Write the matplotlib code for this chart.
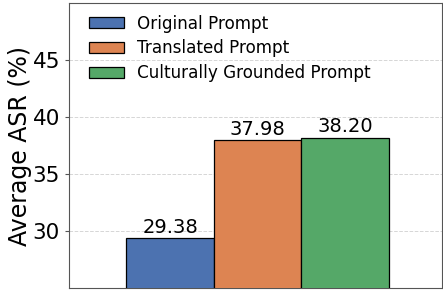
import numpy as np
import matplotlib.pyplot as plt

# average ASR per prompt type
labels = ["Original Prompt", "Translated Prompt", "Culturally Grounded Prompt"]
values = [29.38, 37.98, 38.20]
colors = ["#4C72B0", "#DD8452", "#55A868"]

fig = plt.figure(figsize=(4.43, 2.91), dpi=100)
ax = fig.add_axes([69 / 443, 3 / 291, 373 / 443, 285 / 291])

w = 0.25
x = np.array([-1, 0, 1]) * w
for xi, v, c, lab in zip(x, values, colors, labels):
    ax.bar(xi, v, width=w, color=c, edgecolor="black", linewidth=0.9, label=lab, zorder=3)
    ax.text(xi, v + 0.1, f"{v:.2f}", ha="center", va="bottom", fontsize=14, zorder=4)

ax.set_ylim(25, 50)
ax.set_xlim(-0.539, 0.528)
ax.set_yticks([30, 35, 40, 45])
ax.set_xticks([])
ax.tick_params(axis="y", labelsize=15.5, length=3, color="#555555")
ax.set_ylabel("Average ASR (%)", fontsize=17)
ax.yaxis.set_label_coords(-0.098, 0.5)
ax.grid(axis="y", linestyle="--", color="#cccccc", linewidth=0.7, alpha=0.8, zorder=0)
for s in ax.spines.values():
    s.set_color("#555555")

ax.legend(loc="upper left", bbox_to_anchor=(0.021, 1.0), frameon=False, fontsize=12.1,
          handlelength=2.1, handleheight=0.65, borderaxespad=0.3, labelspacing=0.4,
          handletextpad=0.8)

fig.savefig("out.png", dpi=100)
